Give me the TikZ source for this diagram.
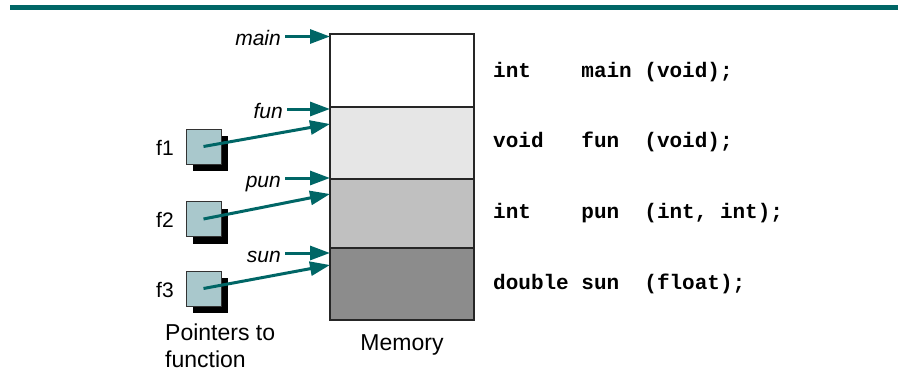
\documentclass[tikz,border=0pt]{standalone}
\usepackage{fontspec}
\setmainfont{Liberation Sans}
\newfontfamily\codefont{Liberation Mono}
\usetikzlibrary{arrows.meta,calc}
\definecolor{tealc}{HTML}{006666}
\definecolor{sqfill}{HTML}{A9C8CC}
\definecolor{blkA}{HTML}{FFFFFF}
\definecolor{blkB}{HTML}{E6E6E6}
\definecolor{blkC}{HTML}{C0C0C0}
\definecolor{blkD}{HTML}{8C8C8C}
\begin{document}
\begin{tikzpicture}[x=1pt,y=-1pt,
 memblock/.style={draw=black!85,line width=1.3pt,minimum width=144pt,inner sep=0pt,outer sep=0pt,anchor=north west},
 ptr/.style={draw=tealc,line width=3pt,-{Triangle[length=20pt,width=14pt]}},
 lbl/.style={font=\fontsize{21}{25}\selectfont\itshape,text height=18pt,text depth=0pt,inner xsep=4pt,inner ysep=0pt,anchor=base east},
 flbl/.style={font=\fontsize{21}{25}\selectfont,inner sep=0pt,anchor=base west},
 sq/.style={draw=black!80,line width=1pt,fill=sqfill,minimum size=35pt,inner sep=0pt},
 shad/.style={fill=black,minimum size=35pt,inner sep=0pt},
 codetxt/.style={font=\codefont\bfseries\fontsize{21}{25}\selectfont,inner sep=0pt,anchor=base west},
 captxt/.style={font=\fontsize{23}{27}\selectfont,inner sep=0pt}]
\useasboundingbox (0,0) rectangle (903,391);
\fill[tealc] (10,5) rectangle (898,10);
% memory blocks
\node[memblock,fill=blkA,minimum height=73pt] (m1) at (330,34) {};
\node[memblock,fill=blkB,minimum height=72pt] (m2) at (330,107) {};
\node[memblock,fill=blkC,minimum height=69pt] (m3) at (330,179) {};
\node[memblock,fill=blkD,minimum height=72pt] (m4) at (330,248) {};
% code text
\node[codetxt] (c1) at (493,77) {int~~~~main~(void);};
\node[codetxt] (c2) at (493,147) {void~~~fun~~(void);};
\node[codetxt] (c3) at (493,218) {int~~~~pun~~(int,~int);};
\node[codetxt] (c4) at (493,289) {double~sun~~(float);};
% labels
\node[lbl] (lmain) at (285,45.5) {main};
\node[lbl] (lfun) at (287,118) {fun};
\node[lbl] (lpun) at (285,187) {pun};
\node[lbl] (lsun) at (285,262) {sun};
\draw[ptr] (lmain.east) -- (lmain.east -| m1.west);
\draw[ptr] (lfun.east) -- (lfun.east -| m2.west);
\draw[ptr] (lpun.east) -- (lpun.east -| m3.west);
\draw[ptr] (lsun.east) -- (lsun.east -| m4.west);
% pointer squares
\node[shad] (h1) at (210.5,153.5) {};
\node[sq] (s1) at (203.5,146.5) {};
\node[shad] (h2) at (210.5,226) {};
\node[sq] (s2) at (203.5,219) {};
\node[shad] (h3) at (210.5,295.5) {};
\node[sq] (s3) at (203.5,288.5) {};
\node[flbl] (f1) at (156,155) {f1};
\node[flbl] (f2) at (156,227) {f2};
\node[flbl] (f3) at (156,297) {f3};
\draw[ptr] (s1.center) -- ($(m2.north west)+(0,17)$);
\draw[ptr] (s2.center) -- ($(m3.north west)+(0,15)$);
\draw[ptr] (s3.center) -- ($(m4.north west)+(0,17)$);
% captions
\node[captxt,align=left,anchor=north west] (pf) at (165,323.5) {Pointers to\\function};
\node[captxt,anchor=base] (mem) at (402,350) {Memory};
\end{tikzpicture}
\end{document}
